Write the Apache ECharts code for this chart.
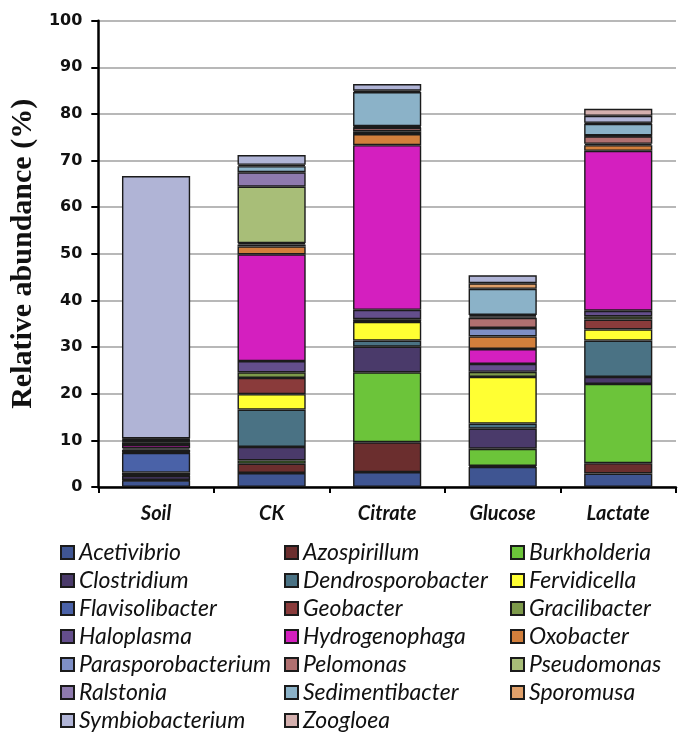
<!DOCTYPE html>
<html>
<head>
<meta charset="utf-8">
<script src="https://cdn.jsdelivr.net/npm/echarts@6/dist/echarts.min.js"></script>
<style>
  html, body { margin: 0; padding: 0; background: #ffffff; }
  #chart { width: 683px; height: 734px; }
</style>
</head>
<body>
<div id="chart"></div>
<script>
// Samples on the category axis
const samples = ['Soil', 'CK', 'Citrate', 'Glucose', 'Lactate'];

// Relative abundance (%) of each genus, in sample order
const acetivibrio        = [1.4, 3.0, 3.2, 4.3, 2.9];
const azospirillum       = [0.1, 2.0, 6.4, 0.2, 2.2];
const burkholderia       = [0, 0.7, 15.0, 3.7, 17.0];
const clostridium        = [0.9, 2.9, 5.5, 4.3, 1.5];
const dendrosporobacter  = [0.1, 8.0, 1.3, 1.1, 7.8];
const fervidicella       = [0.6, 3.3, 4.0, 10.0, 2.4];
const flavisolibacter    = [4.2, 0, 0.1, 0, 0];
const geobacter          = [0.1, 3.5, 0, 0, 2.1];
const gracilibacter      = [0.6, 1.2, 0.5, 1.1, 0.7];
const haloplasma         = [0.3, 2.4, 2.0, 1.7, 1.2];
const hydrogenophaga     = [0.7, 22.9, 35.3, 3.2, 34.3];
const oxobacter          = [0.6, 1.7, 2.4, 2.7, 1.2];
const parasporobacterium = [0.15, 0.4, 0.6, 1.8, 0.3];
const pelomonas          = [0.15, 0.3, 0.8, 2.2, 1.6];
const pseudomonas        = [0.1, 12.1, 0.1, 0.3, 0.1];
const ralstonia          = [0.1, 3.1, 0.2, 0.3, 0.1];
const sedimentibacter    = [0.15, 1.3, 7.3, 5.6, 2.5];
const sporomusa          = [0.15, 0.3, 0.3, 1.2, 0.2];
const symbiobacterium    = [56.3, 2.1, 1.4, 1.7, 1.5];
const zoogloea           = [0, 0, 0, 0, 1.5];

// Y axis ticks
const yTicks = [0, 10, 20, 30, 40, 50, 60, 70, 80, 90, 100];

const genera = [
  ['Acetivibrio', acetivibrio, '#3f5592'],
  ['Azospirillum', azospirillum, '#6b2e2e'],
  ['Burkholderia', burkholderia, '#6cc43a'],
  ['Clostridium', clostridium, '#4a3a6a'],
  ['Dendrosporobacter', dendrosporobacter, '#4a7284'],
  ['Fervidicella', fervidicella, '#ffff33'],
  ['Flavisolibacter', flavisolibacter, '#4a62a8'],
  ['Geobacter', geobacter, '#8a3b3b'],
  ['Gracilibacter', gracilibacter, '#7d9a4a'],
  ['Haloplasma', haloplasma, '#644e8c'],
  ['Hydrogenophaga', hydrogenophaga, '#d41fbf'],
  ['Oxobacter', oxobacter, '#d27f3c'],
  ['Parasporobacterium', parasporobacterium, '#7e8fc6'],
  ['Pelomonas', pelomonas, '#b07070'],
  ['Pseudomonas', pseudomonas, '#a8be78'],
  ['Ralstonia', ralstonia, '#8e7aae'],
  ['Sedimentibacter', sedimentibacter, '#8bb2c8'],
  ['Sporomusa', sporomusa, '#e0a06a'],
  ['Symbiobacterium', symbiobacterium, '#b0b4d6'],
  ['Zoogloea', zoogloea, '#d4b0ae']
];

const series = genera.map(([name, values, color]) => ({
  name: name,
  type: 'bar',
  stack: 'total',
  barWidth: '59%',
  data: values.map(v => (v > 0 ? v : null)),
  itemStyle: { color: color, borderColor: '#1b1b1b', borderWidth: 1.4 },
  emphasis: { disabled: true }
}));

// Legend laid out in three columns, filled row by row
const legendFont = { fontFamily: 'Lato', fontStyle: 'italic', fontSize: 23, color: '#111', lineHeight: 23 };
function legendColumn(col, left) {
  return {
    orient: 'vertical',
    left: left,
    top: 541,
    itemWidth: 13,
    itemHeight: 13,
    itemGap: 5,
    icon: 'rect',
    padding: 0,
    selectedMode: false,
    textStyle: legendFont,
    data: genera.filter((g, i) => i % 3 === col).map(g => g[0])
  };
}

const chart = echarts.init(document.getElementById('chart'), null, { renderer: 'canvas' });
chart.setOption({
  backgroundColor: '#ffffff',
  animation: false,
  grid: { left: 91, right: 7, top: 20.7, bottom: 247, containLabel: false },
  legend: [legendColumn(0, 60), legendColumn(1, 284), legendColumn(2, 510)],
  xAxis: {
    type: 'category',
    data: samples,
    axisLine: { lineStyle: { color: '#000', width: 2.5 } },
    axisTick: { show: true, length: 6, lineStyle: { color: '#000', width: 2 } },
    axisLabel: {
      margin: 17,
      fontFamily: 'Lato',
      fontStyle: 'italic',
      fontWeight: 'bold',
      fontSize: 20,
      color: '#111'
    }
  },
  yAxis: {
    type: 'value',
    min: yTicks[0],
    max: yTicks[yTicks.length - 1],
    interval: yTicks[1] - yTicks[0],
    name: 'Relative abundance (%)',
    nameLocation: 'middle',
    nameGap: 35,
    nameTextStyle: {
      fontFamily: 'Liberation Serif',
      fontWeight: 'bold',
      fontSize: 30,
      color: '#111'
    },
    axisLine: { show: true, lineStyle: { color: '#000', width: 2.5 } },
    axisTick: { show: true, length: 7, lineStyle: { color: '#000', width: 2 } },
    axisLabel: {
      margin: 16,
      fontFamily: 'DejaVu Sans',
      fontWeight: 'bold',
      fontSize: 16,
      color: '#111'
    },
    splitLine: { show: true, lineStyle: { color: '#a0a0a0', width: 1.5 } }
  },
  series: series
});
</script>
</body>
</html>
